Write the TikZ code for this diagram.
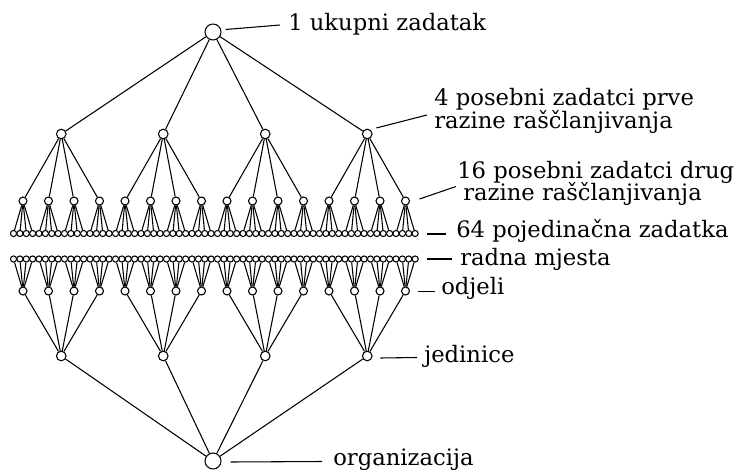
\documentclass[tikz,border=0pt]{standalone}
\usepackage{fontspec}
\setmainfont{DejaVu Serif}
\usepackage{tikz}

\begin{document}
\begin{tikzpicture}[
  x=0.75pt, y=-0.75pt,
  every node/.style={inner sep=0pt},
  dot/.style={draw, circle, line width=0.8pt, fill=white},
  big/.style={dot, minimum size=12pt},
  mid/.style={dot, minimum size=7.2pt},
  small/.style={dot, minimum size=6pt},
  leaf/.style={dot, minimum size=4.6pt},
  lbl/.style={anchor=base west, font=\fontsize{17}{20}\selectfont},
  ln/.style={line width=0.8pt},
]
\useasboundingbox (0,0) rectangle (741,470);

% rastavljanje zadataka
\node[big] (T) at (213,32) {};
\foreach \m in {1,...,4} {
  \node[mid] (A\m) at ({61.25+102*(\m-1)},134) {};
  \draw[ln] (T) -- (A\m);
}
\foreach \k in {1,...,16} {
  \pgfmathtruncatemacro\p{int((\k-1)/4)+1}
  \node[small] (B\k) at ({23+25.5*(\k-1)},201) {};
  \draw[ln] (A\p) -- (B\k);
  \foreach \l in {1,...,4} {
    \pgfmathtruncatemacro\i{4*(\k-1)+\l}
    \node[leaf] (C\i) at ({13.5+6.375*(\i-1)},233.5) {};
    \draw[ln] (B\k) -- (C\i);
  }
}

% organizacijska struktura
\node[big] (O) at (213,461) {};
\foreach \m in {1,...,4} {
  \node[mid] (J\m) at ({61.25+102*(\m-1)},356) {};
  \draw[ln] (O) -- (J\m);
}
\foreach \k in {1,...,16} {
  \pgfmathtruncatemacro\p{int((\k-1)/4)+1}
  \node[small] (D\k) at ({23+25.5*(\k-1)},291) {};
  \draw[ln] (J\p) -- (D\k);
  \foreach \l in {1,...,4} {
    \pgfmathtruncatemacro\i{4*(\k-1)+\l}
    \node[leaf] (R\i) at ({13.5+6.375*(\i-1)},259) {};
    \draw[ln] (D\k) -- (R\i);
  }
}

% oznake
\node[lbl] (t1) at (288,31) {1 ukupni zadatak};
\node[lbl] (t2) at (434,105.7) {4 posebni zadatci prve};
\node[lbl] (t2b) at (434,128.3) {razine raščlanjivanja};
\node[lbl] (t3) at (457,178.3) {16 posebni zadatci drug};
\node[lbl] (t3b) at (463,200.5) {razine raščlanjivanja};
\node[lbl] (t4) at (456,237) {64 pojedinačna zadatka};
\node[lbl] (t5) at (460,265) {radna mjesta};
\node[lbl] (t6) at (441,294.5) {odjeli};
\node[lbl] (t7) at (424,362) {jedinice};
\node[lbl] (t8) at (333,465.5) {organizacija};

\coordinate (e1) at (280,25);
\coordinate (e2) at (427,115);
\coordinate (e3) at (456,186.5);
\coordinate (e4) at (446,234);
\coordinate (e5) at (452,259);
\coordinate (e6) at (435,291.5);
\coordinate (e7) at (417,357.5);
\coordinate (e8) at (322,461.5);
\draw[ln] (T.east) ++(4,-2.5) -- (e1);
\draw[ln] (A4) ++(9,-6) -- (e2);
\draw[ln] (B16) ++(14,-2) -- (e3);
\draw[ln] (C64) ++(12,0.5) -- (e4);
\draw[ln] (R64) ++(12,0) -- (e5);
\draw[ln] (D16) ++(12.5,0.5) -- (e6);
\draw[ln] (J4) ++(13,2) -- (e7);
\draw[ln] (O.east) ++(9,1) -- (e8);
\end{tikzpicture}
\end{document}
